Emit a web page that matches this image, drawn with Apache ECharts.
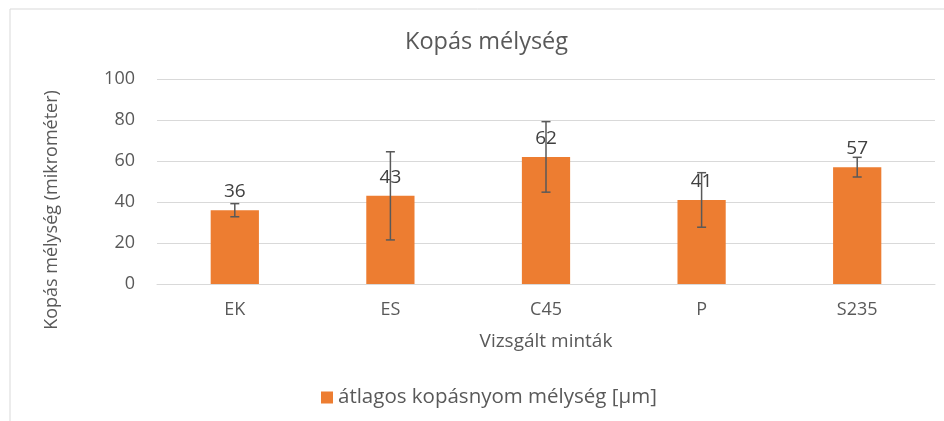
<!DOCTYPE html>
<html>
<head>
<meta charset="utf-8">
<script src="https://cdn.jsdelivr.net/npm/echarts@6/dist/echarts.min.js"></script>
<style>
html,body{margin:0;padding:0;background:#fff;}
#chart{width:944px;height:421px;}
</style>
</head>
<body>
<div id="chart"></div>
<script>
const categories = ['EK', 'ES', 'C45', 'P', 'S235'];
const meanValues = [36, 43, 62, 41, 57];
const errorPlus = [3.2, 21.5, 17.2, 13.3, 4.8];
const errorMinus = [3.2, 21.5, 17.2, 13.3, 4.8];
const yTicks = [0, 20, 40, 60, 80, 100];
const seriesName = 'átlagos kopásnyom mélység [μm]';
const titleText = 'Kopás mélység';
const xAxisTitle = 'Vizsgált minták';
const yAxisTitle = 'Kopás mélység (mikrométer)';

const FONT = '"Open Sans"';
const errorData = categories.map((c, i) => [i, meanValues[i] - errorMinus[i], meanValues[i] + errorPlus[i]]);

const chart = echarts.init(document.getElementById('chart'));
chart.setOption({
  animation: false,
  backgroundColor: '#fff',
  textStyle: { fontFamily: FONT },
  title: {
    text: titleText, left: 400, top: 25,
    textStyle: { fontFamily: FONT, fontSize: 23.5, fontWeight: 'normal', color: '#595959' }
  },
  legend: {
    bottom: 8, left: 316, itemWidth: 12, itemHeight: 12, itemGap: 10,
    data: [{ name: seriesName, icon: 'rect' }],
    textStyle: { fontFamily: FONT, fontSize: 20.5, color: '#595959' }
  },
  grid: { left: 157, right: 9, top: 79, bottom: 137 },
  xAxis: {
    type: 'category', data: categories,
    axisLine: { show: true, lineStyle: { color: '#d9d9d9', width: 1 } },
    axisTick: { show: false },
    axisLabel: { fontFamily: FONT, fontSize: 18, color: '#595959', margin: 17 },
    name: xAxisTitle, nameLocation: 'middle', nameGap: 48,
    nameTextStyle: { fontFamily: FONT, fontSize: 19, color: '#595959' }
  },
  yAxis: {
    type: 'value', min: yTicks[0], max: yTicks[yTicks.length - 1], interval: 20,
    axisLine: { show: false }, axisTick: { show: false },
    axisLabel: { fontFamily: FONT, fontSize: 18, color: '#595959', margin: 22 },
    splitLine: { lineStyle: { color: '#d9d9d9', width: 1 } }
  },
  graphic: [
    { type: 'rect', shape: { x: 10, y: 9, width: 1000, height: 1000 }, style: { fill: 'none', stroke: '#d9d9d9', lineWidth: 1 }, silent: true },
    { type: 'text', x: 52, y: 210, rotation: Math.PI / 2,
      style: { text: yAxisTitle, fontFamily: FONT, fontSize: 18, fill: '#595959', align: 'center', verticalAlign: 'middle' } }
  ],
  series: [
    {
      name: seriesName, type: 'bar', data: meanValues, barWidth: '31%',
      itemStyle: { color: '#ED7D31' },
      label: { show: true, position: 'top', distance: 9, fontFamily: FONT, fontSize: 19, color: '#404040' },
      z: 2
    },
    {
      type: 'custom', data: errorData, z: 5, silent: true,
      encode: { x: 0, y: [1, 2] },
      renderItem: function (params, api) {
        const x = api.value(0);
        const lo = api.coord([x, api.value(1)]);
        const hi = api.coord([x, api.value(2)]);
        const hw = 4.5;
        const st = { stroke: '#595959', lineWidth: 1.5 };
        return {
          type: 'group',
          children: [
            { type: 'line', shape: { x1: hi[0], y1: hi[1], x2: lo[0], y2: lo[1] }, style: st },
            { type: 'line', shape: { x1: hi[0] - hw, y1: hi[1], x2: hi[0] + hw, y2: hi[1] }, style: st },
            { type: 'line', shape: { x1: lo[0] - hw, y1: lo[1], x2: lo[0] + hw, y2: lo[1] }, style: st }
          ]
        };
      }
    }
  ]
});
</script>
</body>
</html>
